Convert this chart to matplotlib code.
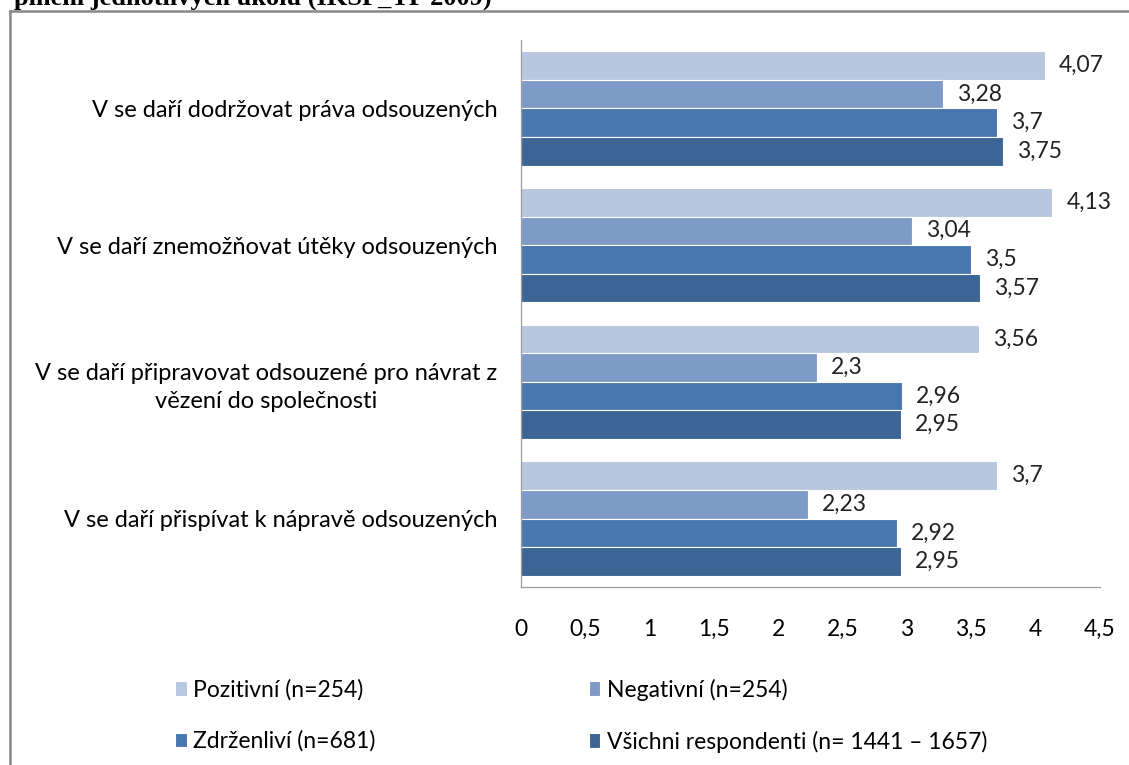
import numpy as np
import matplotlib.pyplot as plt
from matplotlib.lines import Line2D

# Data
categories = [
    "V se daří dodržovat práva odsouzených",
    "V se daří znemožňovat útěky odsouzených",
    "V se daří připravovat odsouzené pro návrat z\nvězení do společnosti",
    "V se daří přispívat k nápravě odsouzených",
]
series_names = [
    "Pozitivní (n=254)",
    "Negativní (n=254)",
    "Zdrženliví (n=681)",
    "Všichni respondenti (n= 1441 – 1657)",
]
pozitivni = [4.07, 4.13, 3.56, 3.70]
negativni = [3.28, 3.04, 2.30, 2.23]
zdrzenlivi = [3.70, 3.50, 2.96, 2.92]
vsichni = [3.75, 3.57, 2.95, 2.95]
colors = ["#B8C6E0", "#7E9BC8", "#4877B0", "#3C6494"]
x_ticks = [0, 0.5, 1, 1.5, 2, 2.5, 3, 3.5, 4, 4.5]

plt.rcParams["font.family"] = ["Lato", "DejaVu Sans"]

fig = plt.figure(figsize=(11.29, 7.65), dpi=100)
ax = fig.add_axes([0.4615, 0.2327, 0.5128, 0.715])

y = np.arange(len(categories))
h = 0.209
bars = []
for j, (vals, name, c) in enumerate(zip([pozitivni, negativni, zdrzenlivi, vsichni],
                                        series_names, colors)):
    b = ax.barh(y + (j - 1.5) * h, vals, height=h, color=c, edgecolor="white",
                linewidth=0.8, label=name)
    bars.append(b)
    for yi, v in zip(y, vals):
        lab = ("%.2f" % v).rstrip("0").rstrip(".").replace(".", ",")
        ax.annotate(lab, (v, yi + (j - 1.5) * h), xytext=(10, 0),
                    textcoords="offset points", va="center", ha="left",
                    fontsize=16.5, color="#222222")

ax.set_ylim(3.5, -0.5)
ax.set_xlim(0, 4.5)
ax.set_xticks(x_ticks)
ax.set_xticklabels([("%g" % t).replace(".", ",") for t in x_ticks], fontsize=16.5)
ax.set_yticks(y)
ax.set_yticklabels(categories, fontsize=17, multialignment="center",
                   linespacing=1.4)
ax.tick_params(axis="x", length=0, pad=23)
ax.tick_params(axis="y", length=0, pad=17)
for s in ["top", "right"]:
    ax.spines[s].set_visible(False)
for s in ["left", "bottom"]:
    ax.spines[s].set_color("#999999")
    ax.spines[s].set_linewidth(0.9)

# legend, two columns
order = [0, 2, 1, 3]
leg = fig.legend([bars[i] for i in order], [series_names[i] for i in order],
                 ncol=2, loc="upper left", bbox_to_anchor=(0.145, 0.128),
                 frameon=False, fontsize=16.5, handlelength=0.5, handleheight=0.6,
                 handletextpad=0.3, columnspacing=9.3, labelspacing=1.3,
                 borderpad=0)

# cropped caption from the page and frame lines
fig.text(0.012, 1.003, "plnění jednotlivých úkolů (IKSP_TP 2009)",
         family="Liberation Serif", fontweight="bold", fontsize=19,
         va="center", ha="left")
fig.add_artist(Line2D([0.009, 1.0], [0.985, 0.985], color="#888888", lw=1.8))
fig.add_artist(Line2D([0.009, 0.009], [0.0, 0.985], color="#888888", lw=1.8))

fig.savefig("out.png", dpi=100)
